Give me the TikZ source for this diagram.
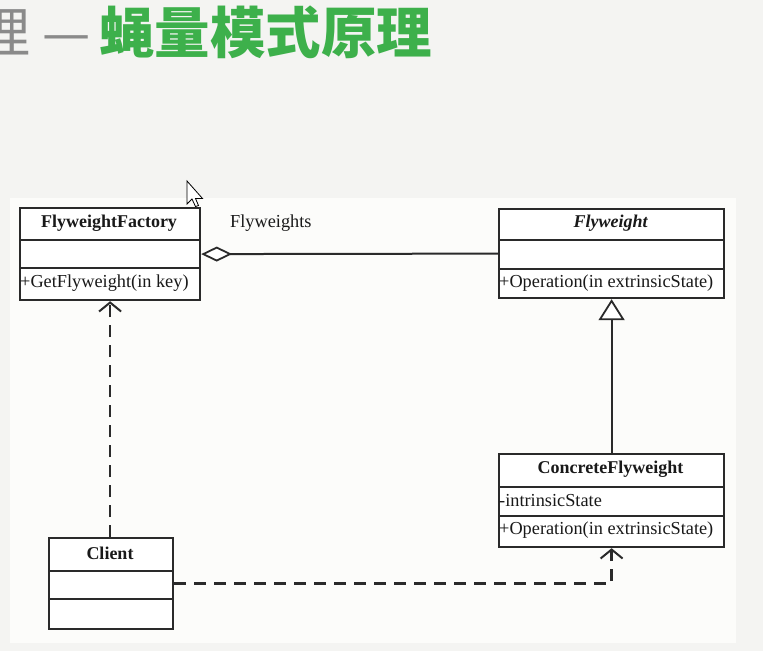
\documentclass[tikz,border=0pt]{standalone}
\usepackage{fontspec}
\setmainfont{Liberation Serif}
\newfontfamily\cjk{Noto Sans CJK SC}
\usetikzlibrary{arrows.meta}
\definecolor{outerbg}{HTML}{F4F4F2}
\definecolor{innerbg}{HTML}{FCFCFA}
\definecolor{ln}{HTML}{2A2A2A}
\definecolor{titlegreen}{HTML}{3DB04B}
\definecolor{titlegray}{HTML}{8A8A8A}
\tikzset{
  classbox/.style={draw=ln, line width=2.2pt, fill=white, anchor=north west, inner sep=0pt},
  divider/.style={draw=ln, line width=2pt},
  ctitle/.style={font=\fontsize{18}{20}\selectfont\bfseries, text=black!90, inner sep=0pt},
  member/.style={font=\fontsize{18.3}{20}\selectfont, text=black!90, anchor=west, inner sep=0pt},
  conn/.style={draw=ln, line width=2pt},
  dep/.style={conn, line width=2.3pt, dash pattern=on 12pt off 8pt, -{Straight Barb[length=9pt,width=22pt,line width=2pt]}},
}
\begin{document}
\begin{tikzpicture}[x=1pt,y=-1pt]
\fill[outerbg] (0,0) rectangle (763,651);
\useasboundingbox (0,0) rectangle (763,651);
\fill[innerbg] (10,198) rectangle (736,643);

% title
\node[anchor=west, inner sep=0pt, text=titlegray, font=\cjk\fontsize{54}{58}\selectfont] (t1) at (-24,32) {理 —};
\node[anchor=west, inner sep=0pt, text=titlegreen, font=\cjk\bfseries\fontsize{55.5}{60}\selectfont] (t2) at (99,32) {蝇量模式原理};

% FlyweightFactory
\node[classbox, minimum width=180pt, minimum height=92pt] (ff) at (19,207) {};
\draw[divider] (19,240) -- (199,240);
\draw[divider] (19,268) -- (199,268);
\node[ctitle] (fft) at (109,223) {FlyweightFactory};
\node[member] (ffm) at (20,283) {+GetFlyweight(in key)};

% Flyweight
\node[classbox, minimum width=225pt, minimum height=89pt] (fw) at (498,208) {};
\draw[divider] (498,240) -- (723,240);
\draw[divider] (498,269) -- (723,269);
\node[ctitle, font=\fontsize{18}{20}\selectfont\bfseries\itshape] (fwt) at (610.5,223) {Flyweight};
\node[member] (fwm) at (499,283) {+Operation(in extrinsicState)};

% ConcreteFlyweight
\node[classbox, minimum width=225pt, minimum height=93pt] (cf) at (498,453) {};
\draw[divider] (498,487) -- (723,487);
\draw[divider] (498,516) -- (723,516);
\node[ctitle] (cft) at (610.5,469) {ConcreteFlyweight};
\node[member] (cfa) at (499,501) {-intrinsicState};
\node[member] (cfm) at (499,530) {+Operation(in extrinsicState)};

% Client
\node[classbox, minimum width=124pt, minimum height=91pt] (cl) at (48,537) {};
\draw[divider] (48,571) -- (172,571);
\draw[divider] (48,599) -- (172,599);
\node[ctitle] (clt) at (110,553) {Client};

% connectors
\draw[conn, {Diamond[open, fill=white, length=31pt, width=15pt, line width=1.8pt]}-] (ff.east) -- (fw.west);
\node[member] (agl) at (230,223) {Flyweights};
\draw[conn, -{Triangle[open, fill=white, length=21pt, width=26pt, line width=1.8pt]}] (cf.north) -- (fw.south);
\draw[dep] (cl.north -| ff.south) -- (ff.south);
\draw[dep] (cl.east) -| (cf.south);

% mouse cursor
\draw[fill=white, line width=0.8pt] (187,181) -- (187,204) -- (192,199) -- (195.5,206.5) -- (198.5,205.5) -- (195.5,198.5) -- (202.5,198.5) -- cycle;
\end{tikzpicture}
\end{document}
